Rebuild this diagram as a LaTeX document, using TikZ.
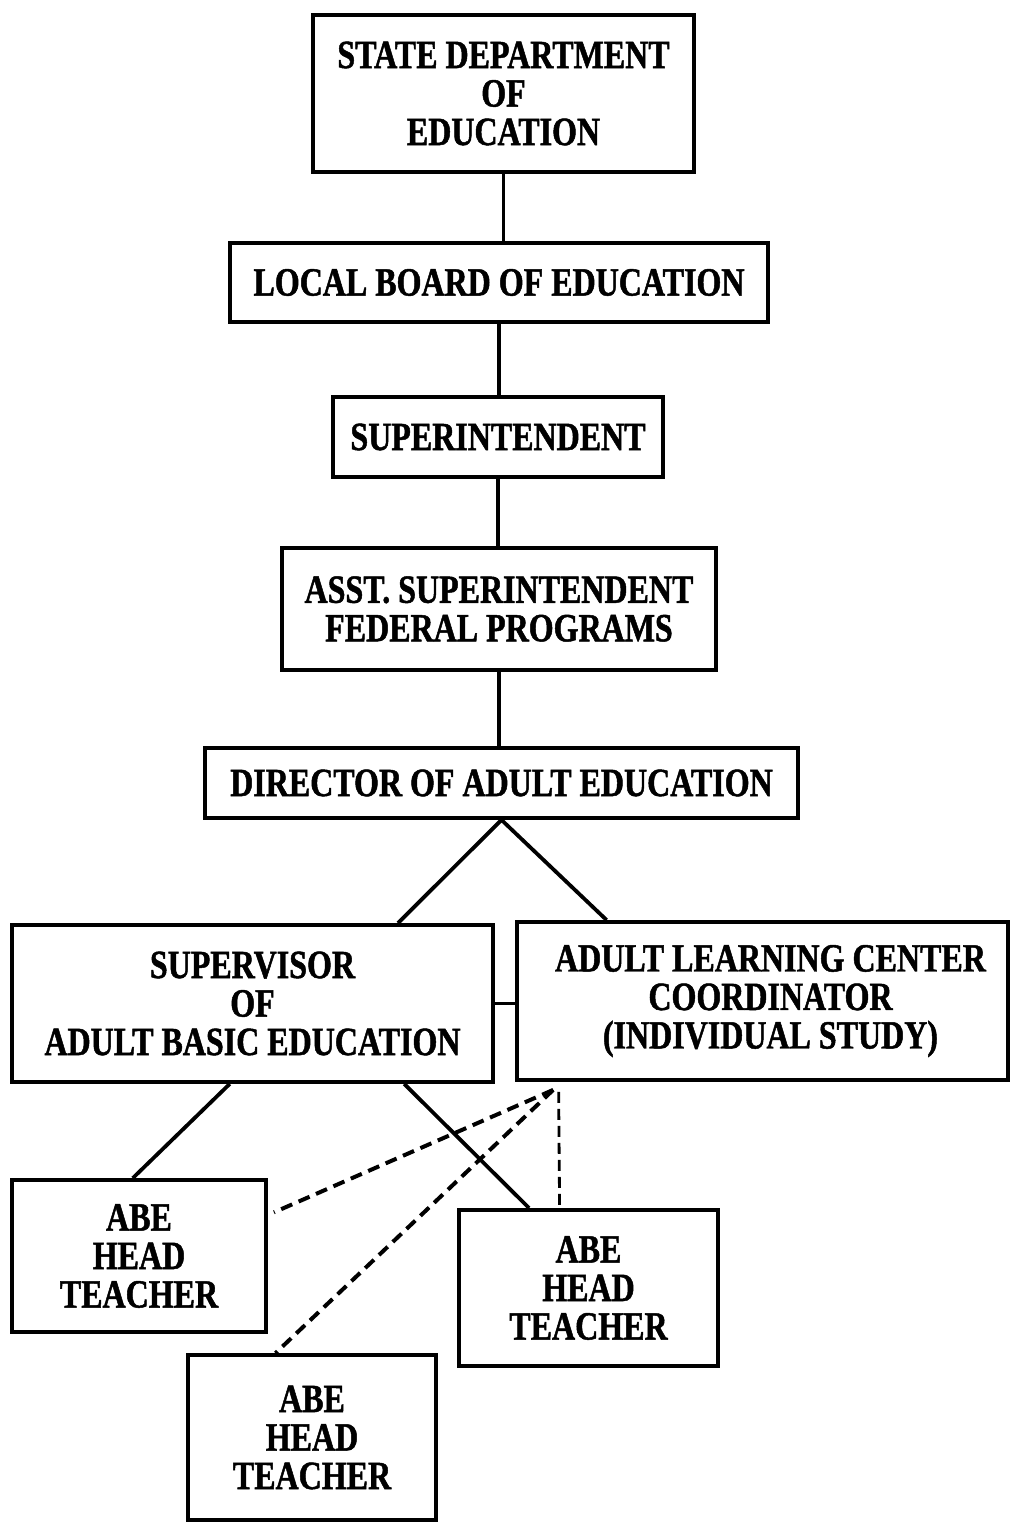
\documentclass[tikz,border=0pt]{standalone}
\usepackage{fontspec}
\newfontfamily\chartfont{Liberation Serif}[FakeStretch=0.8,FakeBold=1.2]
\usetikzlibrary{calc}
\begin{document}
\begin{tikzpicture}[x=1pt,y=-1pt,
  box/.style={draw,line width=3.8pt,rectangle,inner sep=0pt,align=center,
    font=\chartfont\bfseries\fontsize{40}{38.5}\selectfont},
  link/.style={line width=3.8pt},
  dlink/.style={line width=4pt,dash pattern=on 12pt off 7pt},
  vlink/.style={line width=2.8pt,dash pattern=on 11pt off 6pt}]
\useasboundingbox (0,0) rectangle (1010,1522);
\fill[white] (0,0) rectangle (1010,1522);

% boxes
\node[box,minimum width=381pt,minimum height=157pt] (state) at (503.5,93.5)
  {STATE DEPARTMENT\\OF\\EDUCATION};
\node[box,minimum width=538pt,minimum height=79pt] (board) at (499,282.5)
  {LOCAL BOARD OF EDUCATION};
\node[box,minimum width=330pt,minimum height=80pt] (supt) at (498,437)
  {SUPERINTENDENT};
\node[box,minimum width=434pt,minimum height=122pt] (asst) at (499,609)
  {ASST. SUPERINTENDENT\\FEDERAL PROGRAMS};
\node[box,minimum width=593pt,minimum height=70pt] (dir) at (501.5,783)
  {DIRECTOR OF ADULT EDUCATION};
\node[box,minimum width=481pt,minimum height=157pt] (abe) at (252.5,1003.5)
  {SUPERVISOR\\OF\\ADULT BASIC EDUCATION};
\node[box,minimum width=491pt,minimum height=158pt] (alc) at (762.5,1001)
  {\hspace*{16pt}ADULT LEARNING CENTER\\\hspace*{16pt}COORDINATOR\\\hspace*{16pt}(INDIVIDUAL STUDY)};
\node[box,minimum width=254pt,minimum height=152pt] (ht1) at (139,1256)
  {ABE\\HEAD\\TEACHER};
\node[box,minimum width=248pt,minimum height=165pt] (ht2) at (312,1437.5)
  {ABE\\HEAD\\TEACHER};
\node[box,minimum width=259pt,minimum height=156pt] (ht3) at (588.5,1288)
  {ABE\\HEAD\\TEACHER};

% line of authority
\draw[link] (state.south) -- (state.south |- board.north);
\draw[link] (board.south) -- (board.south |- supt.north);
\draw[link] (supt.south) -- (supt.south |- asst.north);
\draw[link] (asst.south) -- (asst.south |- dir.north);
\draw[link] (dir.south) -- ($(abe.north west)!0.80!(abe.north east)$);
\draw[link] (dir.south) -- ($(alc.north west)!0.185!(alc.north east)$);
\draw[link] (abe.east) -- (abe.east -| alc.west);

% supervisor to head teachers
\draw[link] ($(abe.south west)!0.453!(abe.south east)$) -- ($(ht1.north west)!0.476!(ht1.north east)$);
\draw[link] ($(abe.south west)!0.622!(abe.south east)$) -- ($(abe.south west)!0.622!(abe.south east)$ |- ht2.north);
\draw[link] ($(abe.south west)!0.813!(abe.south east)$) -- ($(ht3.north west)!0.274!(ht3.north east)$);

% coordinator to head teachers (dashed)
\coordinate (c0) at ($(alc.south west)!0.077!(alc.south east)+(0,8)$);
\draw[dlink] (c0) -- ($(ht1.north east)!0.22!(ht1.south east)+(6,0)$);
\draw[dlink] (c0) -- ($(ht2.north west)!0.355!(ht2.north east)$);
\draw[vlink] ($(alc.south west)!0.088!(alc.south east)+(0,10)$) -- ($(ht3.north west)!0.39!(ht3.north east)$);
\end{tikzpicture}
\end{document}
